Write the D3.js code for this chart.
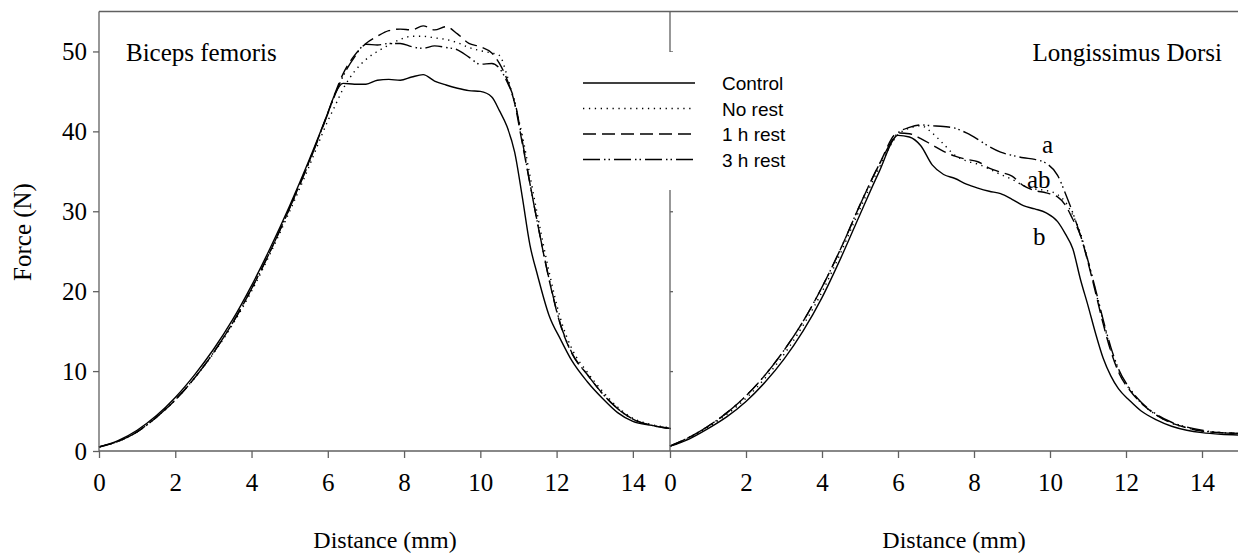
<!DOCTYPE html>
<html>
<head>
<meta charset="utf-8">
<script src="https://cdn.jsdelivr.net/npm/d3@7"></script>
<style>
  body { margin: 0; background: #fff; }
  svg { display: block; }
</style>
</head>
<body>
<div id="chart"></div>
<script>
// distance grid (mm) for each panel
const distLeft = [0,0.5,1,1.5,2,2.5,3,3.5,4,4.5,5,5.5,6,6.2,6.4,6.7,7,7.3,7.6,7.9,8.2,8.5,8.8,9.1,9.4,9.7,10,10.3,10.5,10.7,10.9,11.1,11.3,11.5,11.8,12.1,12.4,12.8,13.2,13.6,14,14.5,15];
const distRight = [0,0.5,1,1.5,2,2.5,3,3.5,4,4.5,5,5.5,6,6.3,6.6,6.9,7.2,7.5,7.8,8.1,8.4,8.7,9,9.3,9.6,9.9,10.2,10.4,10.6,10.8,11,11.2,11.4,11.6,11.8,12.1,12.4,12.8,13.2,13.6,14,14.5,15];

// Biceps femoris, force (N)
const bfControl = [0.5,1.3,2.6,4.4,6.7,9.5,12.7,16.4,20.7,25.5,30.7,36.3,42.3,44.8,46.0,45.9,45.9,46.4,46.5,46.4,46.8,47.1,46.3,45.8,45.4,45.1,45.0,44.3,42.6,40.6,37.4,31.8,25.8,22.0,17.0,14.0,11.3,8.7,6.6,4.8,3.7,3.2,2.8];
const bfNoRest = [0.5,1.2,2.4,4.2,6.4,9.1,12.2,15.8,20.0,24.8,30.0,35.5,41.3,43.3,45.3,47.5,49.0,50.0,50.8,51.5,51.9,51.9,51.7,51.5,51.1,50.5,50.1,49.8,49.5,47.0,43.5,39.5,34.5,29.5,22.5,16.6,12.8,9.9,7.5,5.5,4.1,3.3,2.9];
const bf1h = [0.5,1.2,2.4,4.2,6.4,9.1,12.3,16.0,20.3,25.1,30.4,36.1,42.3,44.9,47.2,49.5,51.0,51.9,52.6,52.8,52.7,53.2,52.7,53.1,52.2,51.0,50.6,49.8,48.5,46.5,43.5,38.5,33.5,28.5,21.5,15.8,12.2,9.6,7.2,5.3,4.0,3.2,2.8];
const bf3h = [0.5,1.2,2.4,4.2,6.4,9.1,12.3,16.0,20.3,25.1,30.4,36.0,42.2,44.7,46.9,49.3,50.9,50.8,51.0,51.0,50.6,50.4,50.7,50.5,50.2,49.3,48.4,48.5,47.9,46.2,43.8,38.8,33.5,28.5,21.6,15.9,12.3,9.6,7.2,5.3,4.0,3.2,2.8];

// Longissimus dorsi, force (N)
const ldControl = [0.6,1.5,2.8,4.3,6.2,8.6,11.5,15.0,19.2,24.2,29.6,34.9,39.5,39.3,38.2,35.8,34.6,34.1,33.4,32.9,32.5,32.2,31.5,30.7,30.3,29.8,28.7,27.2,25.3,21.5,18.2,14.7,11.6,9.4,7.8,6.3,5.0,3.9,3.1,2.6,2.3,2.1,2.0];
const ldNoRest = [0.6,1.6,3.0,4.6,6.6,9.1,12.1,15.7,19.9,24.9,30.3,35.4,39.6,40.4,40.7,39.8,38.4,37.0,36.3,35.9,35.3,34.6,34.0,33.2,32.8,32.6,32.1,31.2,29.5,27.3,23.8,20.0,16.2,12.7,10.1,7.7,6.0,4.5,3.5,2.9,2.5,2.3,2.2];
const ld1h = [0.6,1.7,3.1,4.8,6.9,9.5,12.6,16.2,20.5,25.4,30.8,35.8,39.8,39.7,39.1,38.3,37.5,36.9,36.5,36.2,35.4,34.9,34.4,33.2,32.6,32.3,31.8,30.8,29.0,27.0,23.6,19.8,15.9,12.5,9.9,7.6,6.0,4.5,3.5,2.9,2.5,2.3,2.2];
const ld3h = [0.6,1.7,3.1,4.8,6.9,9.5,12.6,16.2,20.5,25.4,30.8,35.8,39.8,40.5,40.8,40.7,40.6,40.4,39.8,39.0,38.1,37.4,37.0,36.7,36.5,36.0,34.5,32.3,29.8,27.0,23.8,20.2,16.4,13.0,10.3,7.8,6.1,4.6,3.6,3.0,2.6,2.3,2.2];

const seriesNames = ['Control', 'No rest', '1 h rest', '3 h rest'];
const xTicks = [0, 2, 4, 6, 8, 10, 12, 14];
const yTicks = [0, 10, 20, 30, 40, 50];
const significance = ['a', 'ab', 'b'];

const dashes = {
  'Control': null,
  'No rest': '1.3,4.6',
  '1 h rest': '13,6',
  '3 h rest': '17,4,1.5,3,1.5,4'
};

const W = 1238, H = 557;
const plotTop = 11.5, plotBottom = 451;
const axisColor = '#606060';
const serif = '"Liberation Serif", "Times New Roman", serif';
const sans = '"Liberation Sans", Arial, sans-serif';

const svg = d3.select('#chart').append('svg')
  .attr('width', W)
  .attr('height', H);

const y = d3.scaleLinear().domain([0, 55]).range([plotBottom, plotTop]);
const xL = d3.scaleLinear().domain([0, 15]).range([99, 671]);
const xR = d3.scaleLinear().domain([0, 15]).range([670, 1240]);

// curves
function drawPanel(x, dist, sets) {
  const line = d3.line()
    .x((d, i) => x(dist[i]))
    .y((d) => y(d))
    .curve(d3.curveMonotoneX);
  sets.forEach((vals, i) => {
    svg.append('path')
      .datum(vals)
      .attr('fill', 'none')
      .attr('stroke', '#000')
      .attr('stroke-width', 1.4)
      .attr('stroke-dasharray', dashes[seriesNames[i]])
      .attr('d', line);
  });
}
drawPanel(xL, distLeft, [bfControl, bfNoRest, bf1h, bf3h]);
drawPanel(xR, distRight, [ldControl, ldNoRest, ld1h, ld3h]);

// axes
const xAxisL = d3.axisBottom(xL).tickValues(xTicks).tickSize(7).tickFormat(d3.format('d'));
const xAxisR = d3.axisBottom(xR).tickValues(xTicks).tickSize(7).tickFormat(d3.format('d'));
const yAxisL = d3.axisLeft(y).tickValues(yTicks).tickSize(6);
const yAxisR = d3.axisRight(y).tickValues(yTicks.slice(1)).tickSize(3).tickFormat('');

function styleAxis(g) {
  g.select('.domain').remove();
  g.selectAll('line').attr('stroke', axisColor).attr('stroke-width', 1.3);
  g.selectAll('text')
    .attr('fill', '#000')
    .style('font-family', serif)
    .style('font-size', '25px');
}

svg.append('g').attr('transform', `translate(0,${plotBottom})`).call(xAxisL).call(styleAxis)
  .selectAll('text').attr('y', 22).attr('dy', '0.71em');
svg.append('g').attr('transform', `translate(0,${plotBottom})`).call(xAxisR).call(styleAxis)
  .selectAll('text').attr('y', 22).attr('dy', '0.71em');
svg.append('g').attr('transform', `translate(${xL(0)},0)`).call(yAxisL).call(styleAxis)
  .selectAll('text').attr('x', -12);
svg.append('g').attr('transform', `translate(${xR(0)},0)`).call(yAxisR).call(styleAxis);

// frame lines
const frame = [
  [xL(0), plotTop, xL(0), plotBottom],
  [xR(0), plotTop, xR(0), plotBottom],
  [xL(0), plotTop, W, plotTop],
  [xL(0), plotBottom, W, plotBottom]
];
svg.selectAll('line.frame').data(frame).enter().append('line')
  .attr('class', 'frame')
  .attr('x1', (d) => d[0]).attr('y1', (d) => d[1])
  .attr('x2', (d) => d[2]).attr('y2', (d) => d[3])
  .attr('stroke', axisColor)
  .attr('stroke-width', 1.3);

// legend, on a white box that hides the middle axis
const legend = svg.append('g').attr('transform', 'translate(583,83)');
legend.append('rect')
  .attr('x', -14).attr('y', -31)
  .attr('width', 230).attr('height', 138)
  .attr('fill', '#fff');
seriesNames.forEach((name, i) => {
  const row = legend.append('g').attr('transform', `translate(0,${i * 25.5})`);
  row.append('line')
    .attr('x1', 0).attr('x2', 112)
    .attr('stroke', '#000')
    .attr('stroke-width', 1.4)
    .attr('stroke-dasharray', dashes[name]);
  row.append('text')
    .attr('x', 139).attr('y', 7)
    .style('font-family', sans)
    .style('font-size', '19px')
    .text(name);
});

// titles
function label(txt, x0, y0, anchor, size) {
  return svg.append('text')
    .attr('x', x0).attr('y', y0)
    .attr('text-anchor', anchor)
    .style('font-family', serif)
    .style('font-size', size + 'px')
    .text(txt);
}
label('Biceps femoris', 126, 61, 'start', 25);
label('Longissimus Dorsi', 1222, 61, 'end', 25);
label('Distance (mm)', (xL(0) + xL(15)) / 2, 548, 'middle', 24);
label('Distance (mm)', (xR(0) + W) / 2, 548, 'middle', 24);
svg.append('text')
  .attr('transform', 'translate(31,232) rotate(-90)')
  .attr('text-anchor', 'middle')
  .style('font-family', serif)
  .style('font-size', '25px')
  .text('Force (N)');

// significance letters
const sigPos = [[1042, 153], [1027, 188], [1033, 245]];
significance.forEach((s, i) => label(s, sigPos[i][0], sigPos[i][1], 'start', 25));
</script>
</body>
</html>
